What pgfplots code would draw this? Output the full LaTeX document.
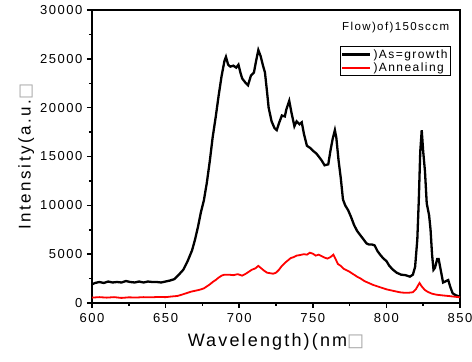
\documentclass[border=0pt]{standalone}
\usepackage{pgfplots}
\pgfplotsset{compat=1.18}
\usepackage{fontspec}
\setmainfont[LetterSpace=12]{Liberation Sans}
\newfontfamily\dejavu{DejaVu Sans}
\begin{document}
\begin{tikzpicture}[x=1pt,y=1pt]
\useasboundingbox (-92,-59) rectangle (380,303);
\begin{axis}[
  at={(0,0)}, anchor=south west,
  scale only axis, width=368pt, height=293pt,
  xmin=600, xmax=850, ymin=0, ymax=30000,
  xtick={600,650,...,850}, ytick={0,5000,...,30000},
  minor xtick={625,675,...,825}, minor ytick={2500,7500,...,27500},
  tick align=outside, xtick pos=bottom, ytick pos=left,
  major tick length=5pt, minor tick length=3pt,
  every tick/.style={black, line width=1.5pt},
  axis line style={line width=1.8pt},
  scaled y ticks=false,
  /pgf/number format/assume math mode=true,
  yticklabel style={/pgf/number format/1000 sep={}, font=\fontsize{13}{15}\selectfont, xshift=-1pt},
  xticklabel style={font=\fontsize{13}{15}\selectfont, yshift=-2pt},
  xlabel={Wavelength)(nm{\dejavu\color{gray!70}□}},
  ylabel={Intensity(a.u.{\dejavu\color{gray!70}□}},
  xlabel style={font=\fontsize{18}{20}\selectfont, yshift=-4pt},
  ylabel style={font=\fontsize{17}{19}\selectfont\addfontfeatures{LetterSpace=15}, yshift=-1pt},
  legend style={at={(0.975,0.877)}, anchor=north east, draw=black, line width=0.6pt,
    font=\fontsize{12}{14}\selectfont, inner sep=1pt, row sep=-1pt,
    legend cell align=left},
  legend image post style={line width=2.2pt},
  legend image code/.code={\draw[#1] (0pt,0pt) -- (28pt,0pt);},
  clip=true,
]
\addplot[black, line width=2.3pt] coordinates {
(600,1900) (602,2050) (605,2150) (608,2050) (611,2200) (614,2100) (617,2150) (620,2100)
(623,2250) (626,2150) (629,2100) (632,2200) (635,2100) (638,2200) (641,2150) (644,2150)
(647,2100) (650,2200) (653,2300) (656,2450) (659,2900) (662,3400) (665,4300) (668,5400)
(670,6500) (672,7800) (674,9300) (676,10500) (678,12300) (680,14500) (682,17000) (684,19000)
(686,21200) (688,23200) (690,24800) (691,25200) (692.5,24400) (694,24200) (696,24300) (698,24100)
(699.5,24400) (701,23500) (702,23000) (704,22600) (706,22300) (708,23300) (710,23600) (711.5,24800)
(713,25900) (714.5,25300) (716,24400) (717.5,23600) (719,21500) (720,20000) (722,18600) (724,17900)
(725.5,17700) (727,18400) (729,19200) (731,19100) (732,19800) (734,20700) (735.5,19500) (737.5,18100)
(739,18600) (741,18300) (742.5,18500) (744,17300) (746,16100) (748,15900) (750,15600) (752.5,15300)
(754,15000) (756,14600) (758,14100) (760.5,14200) (762,15600) (763.5,16800) (765,17700) (766,16900)
(767.5,14600) (769,12800) (770.5,10600) (772,10000) (774,9500) (776,8800) (778,8000) (780,7400)
(782,7000) (784,6600) (786.5,6100) (788,6000) (790,6000) (792,5900) (794,5300) (796,4900)
(798,4550) (800,4300) (802,3800) (804.5,3400) (807,3100) (810,2900) (813,2850) (816,2700)
(818,2900) (819.5,3700) (821,6500) (822,10500) (823,15500) (824,17700) (825,15500) (826.2,13500)
(827.4,10200) (829,9000) (830,7500) (831,5000) (832,3400) (833,3600) (834.5,4500) (835.5,4500)
(837,3300) (838.5,2100) (840,2200) (842,2350) (843.5,1600) (845,1000) (847,800) (849,700) (850,650)
};
\addlegendentry{)As=growth}
\addplot[red, line width=1.8pt] coordinates {
(600,550) (605,600) (610,550) (615,600) (620,520) (625,580) (630,560) (635,600) (640,580)
(645,620) (650,600) (655,680) (658,720) (661,850) (664,1000) (667,1150) (670,1250) (673,1350)
(676,1500) (678,1700) (680,1900) (682,2150) (684,2350) (686,2600) (688,2800) (690,2900) (693,2900)
(696,2850) (699,2950) (702,2800) (704,2950) (706,3150) (708.5,3400) (711,3550) (713,3800) (715,3550)
(717,3300) (719,3100) (721,3050) (723,3000) (725,3100) (727,3400) (729,3800) (731,4100) (733,4350)
(735,4600) (737,4700) (739,4850) (741,4900) (744,5000) (746,4950) (748,5150) (750,5050) (752,4850)
(754,4950) (756,4800) (758,4650) (760,4550) (762,4700) (764,4950) (765.5,4500) (767,4000) (769,3800)
(771,3500) (773,3350) (775,3200) (778,2900) (780,2700) (782,2550) (785,2250) (788,2050) (791,1850)
(794,1700) (797,1550) (800,1400) (803,1300) (806,1200) (809,1100) (812,1050) (815,1050) (818,1100)
(820,1400) (821.5,1800) (822.5,2050) (824,1700) (826,1350) (828,1150) (831,950) (834,850) (838,780)
(842,720) (846,650) (850,580)
};
\addlegendentry{)Annealing}
\node[anchor=east, font=\fontsize{11.5}{13}\selectfont] at (rel axis cs:0.98,0.94) {Flow)of)150sccm};
\end{axis}
\end{tikzpicture}
\end{document}
